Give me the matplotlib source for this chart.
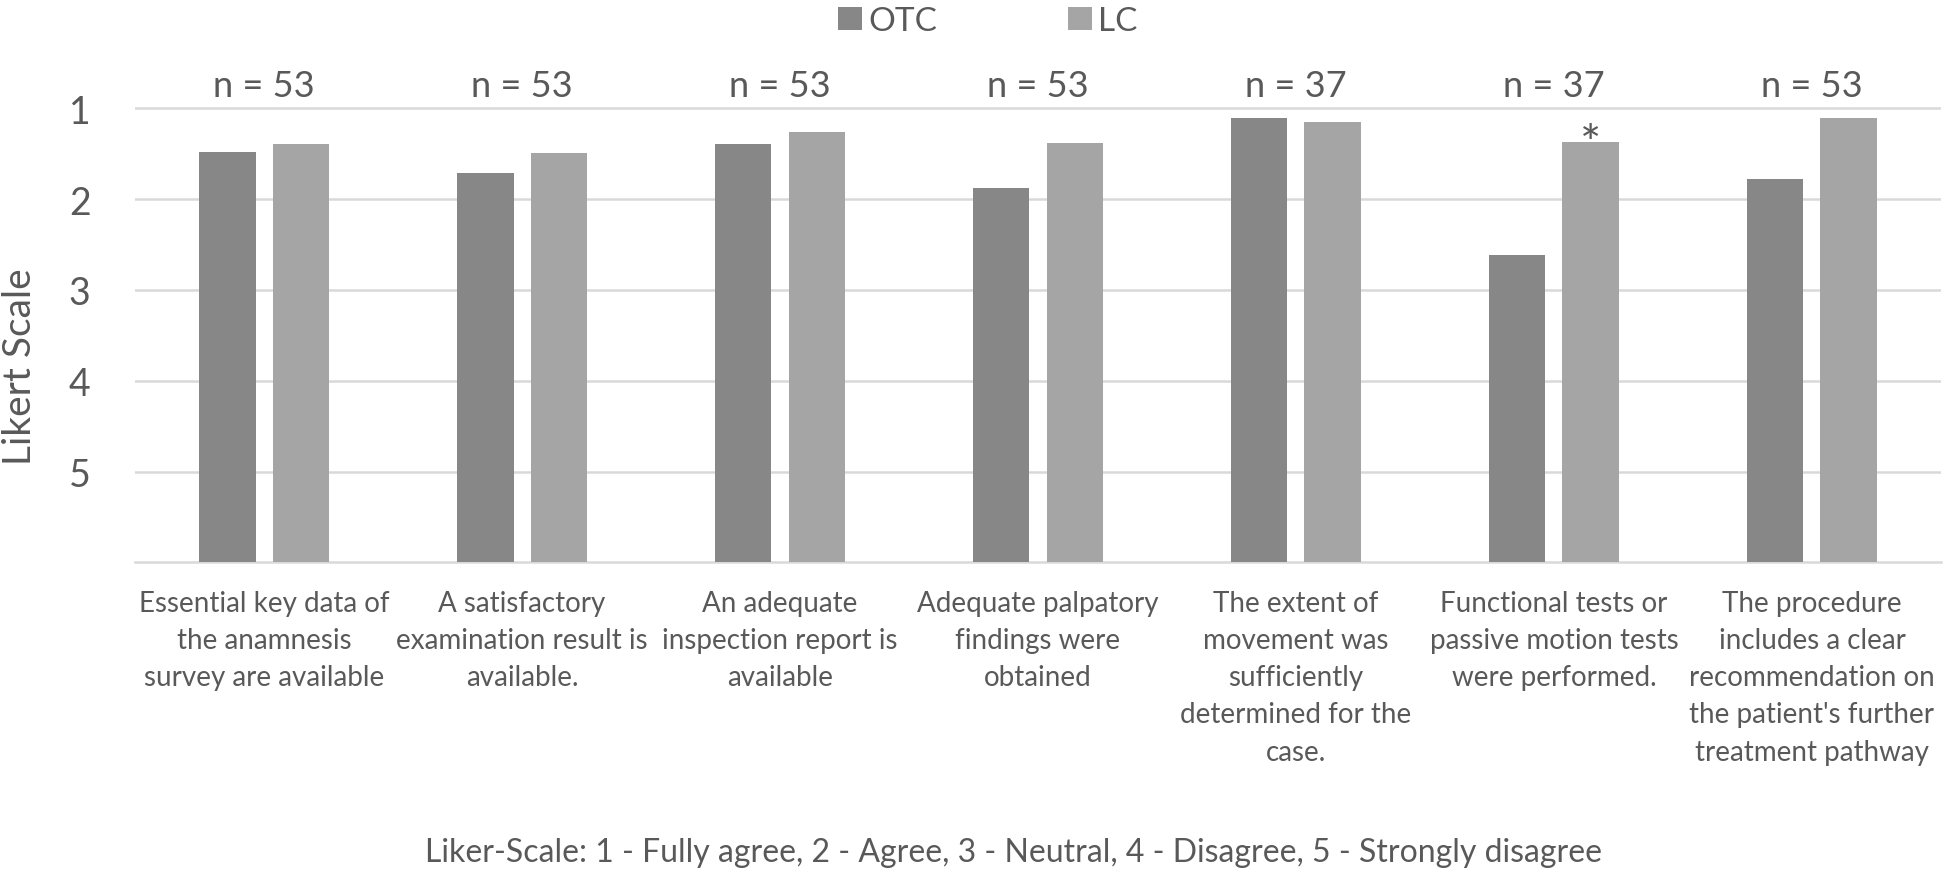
import numpy as np
import matplotlib
matplotlib.use("Agg")
import matplotlib.pyplot as plt

plt.rcParams['font.family'] = ['Lato', 'DejaVu Sans']

categories = [
    "Essential key data of\nthe anamnesis\nsurvey are available",
    "A satisfactory\nexamination result is\navailable.",
    "An adequate\ninspection report is\navailable",
    "Adequate palpatory\nfindings were\nobtained",
    "The extent of\nmovement was\nsufficiently\ndetermined for the\ncase.",
    "Functional tests or\npassive motion tests\nwere performed.",
    "The procedure\nincludes a clear\nrecommendation on\nthe patient's further\ntreatment pathway",
]
otc = [1.48, 1.71, 1.39, 1.88, 1.11, 2.61, 1.78]
lc = [1.39, 1.49, 1.26, 1.38, 1.15, 1.37, 1.10]
n_sizes = [53, 53, 53, 53, 37, 37, 53]
significant = [5]  # index of LC bar marked with *
yticks = [1, 2, 3, 4, 5]

text_col = '#595959'
otc_col = '#878787'
lc_col = '#a5a5a5'
base = 6

fig = plt.figure(figsize=(19.46, 8.78), dpi=100)
ax = fig.add_axes([0.0694, 0.3584, 0.928, 0.5273])

x = np.arange(len(categories))
w = 0.22
off = 0.143
b1 = ax.bar(x - off, np.array(otc) - base, w, bottom=base, color=otc_col, label='OTC', zorder=3)
b2 = ax.bar(x + off, np.array(lc) - base, w, bottom=base, color=lc_col, label='LC', zorder=3)

ax.set_xlim(-0.5, len(categories) - 0.5)
ax.set_ylim(base, 0.9)
ax.set_yticks(yticks)
ax.set_yticklabels([str(t) for t in yticks], fontsize=27, color=text_col)
ax.tick_params(axis='y', length=0, pad=32)
ax.set_xticks(x)
ax.set_xticklabels(categories, fontsize=20, color=text_col, linespacing=1.53, va='top')
ax.tick_params(axis='x', length=0, pad=20)

ax.yaxis.grid(True, color='#d9d9d9', linewidth=1.8, zorder=0)
for s in ['top', 'right', 'left']:
    ax.spines[s].set_visible(False)
ax.spines['bottom'].set_color('#d9d9d9')
ax.spines['bottom'].set_linewidth(1.8)

ax.set_ylabel('Likert Scale', fontsize=28, color=text_col, va='center')
ax.yaxis.set_label_coords(-0.0637, 0.424)

for i, n in enumerate(n_sizes):
    ax.text(x[i], 0.75, 'n = %d' % n, ha='center', va='center', fontsize=26,
            color=text_col, clip_on=False)

for i in significant:
    ax.text(x[i] + off, lc[i] + 0.2, '*', ha='center', va='baseline', fontsize=36, color=text_col)

fig.legend(handles=[b1, b2], loc='center', bbox_to_anchor=(0.5077, 0.975), ncol=2,
           frameon=False, fontsize=24, handlelength=0.72, handleheight=0.7,
           handletextpad=0.2, columnspacing=3.9, labelcolor=text_col)

fig.text(0.521, 1 - 853 / 878, 'Liker-Scale: 1 - Fully agree, 2 - Agree, 3 - Neutral, 4 - Disagree, 5 - Strongly disagree',
         ha='center', va='center', fontsize=23, color=text_col)

fig.savefig('out.png', dpi=100)
